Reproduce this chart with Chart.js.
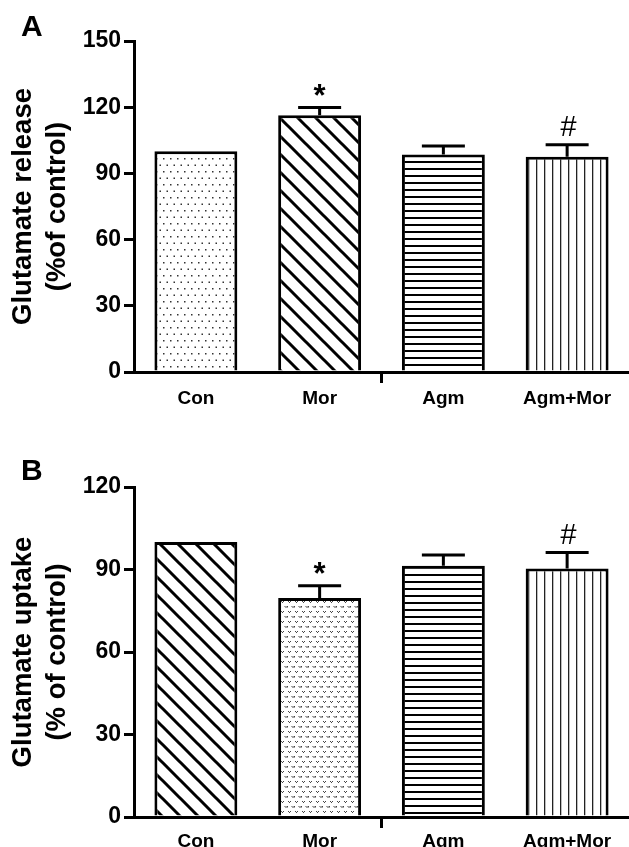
<!DOCTYPE html>
<html>
<head>
<meta charset="utf-8">
<script src="https://cdn.jsdelivr.net/npm/chart.js@4/dist/chart.umd.min.js"></script>
<style>
  html, body { margin: 0; padding: 0; background: #fff; }
  #wrap { position: relative; width: 629px; height: 847px; overflow: hidden; }
  .panel { position: absolute; left: 0; width: 629px; }
  .plabel { position: absolute; left: 21px; font: bold 30px "Liberation Sans", Arial, sans-serif; color: #000; }
</style>
</head>
<body>
<div id="wrap">
  <div class="panel" style="top:0;height:420px"><canvas id="cA" width="629" height="420"></canvas></div>
  <div class="panel" style="top:420px;height:427px"><canvas id="cB" width="629" height="427"></canvas></div>
  <div class="plabel" style="top:9px">A</div>
  <div class="plabel" style="top:453px">B</div>
</div>
<script>
// ---- data ----
const categories = ['Con', 'Mor', 'Agm', 'Agm+Mor'];

const releaseValues = [100, 116.4, 98.6, 97.6];
const releaseErrors = [0, 3.5, 3.8, 5.4];
const releaseMarks  = ['', '*', '', '#'];
const releaseTicks  = [0, 30, 60, 90, 120, 150];

const uptakeValues = [100, 79.6, 91.4, 90.4];
const uptakeErrors = [0, 4.5, 3.9, 5.8];
const uptakeMarks  = ['', '*', '', '#'];
const uptakeTicks  = [0, 30, 60, 90, 120];

const releaseTitle = ['Glutamate release', '(%of control)'];
const uptakeTitle  = ['Glutamate uptake', '(% of control)'];

// ---- patterns (styling only) ----
function makePattern(w, h, draw) {
  const c = document.createElement('canvas');
  c.width = w; c.height = h;
  const g = c.getContext('2d');
  g.fillStyle = '#fff'; g.fillRect(0, 0, w, h);
  g.fillStyle = '#000'; g.strokeStyle = '#000';
  draw(g, w, h);
  return g.createPattern(c, 'repeat');
}
const patDots = makePattern(14, 13, g => {
  g.fillStyle = '#333';
  g.fillRect(2, 2, 1.5, 1.5); g.fillRect(9, 2, 1.5, 1.5);
  g.fillRect(5.5, 8.5, 1.5, 1.5); g.fillRect(12.5, 8.5, 1.5, 1.5);
});
const patDiag = makePattern(18, 18, g => {
  g.lineWidth = 3;
  g.beginPath();
  g.moveTo(-2, -2); g.lineTo(20, 20);
  g.moveTo(-20, -2); g.lineTo(2, 20);
  g.moveTo(16, -2); g.lineTo(38, 20);
  g.stroke();
});
const patHoriz = makePattern(8, 7, g => { g.fillRect(0, 0, 8, 2); });
const patVert = makePattern(8, 8, g => { g.fillStyle = '#222'; g.fillRect(0, 0, 1.3, 8); });
const patV = makePattern(7, 10, g => {
  g.fillStyle = '#444';
  g.fillRect(1, 1, 1, 1); g.fillRect(3, 1, 1, 1); g.fillRect(2, 2, 1, 1);
  g.fillRect(4.5, 6, 1, 1); g.fillRect(6.5, 6, 1, 1); g.fillRect(5.5, 7, 1, 1);
  g.fillRect(0, 6, 1, 1); g.fillRect(0, 7, 0.5, 1);
});

const FONT = '"Liberation Sans", Arial, sans-serif';

// error bars + significance marks drawn via the chart's own scales
const errorPlugin = {
  id: 'errBars',
  afterDatasetsDraw(chart) {
    const o = chart.options.plugins.errBars;
    const meta = chart.getDatasetMeta(0);
    const ys = chart.scales.y;
    const c = chart.ctx;
    c.save();
    c.strokeStyle = '#000';
    c.fillStyle = '#000';
    c.lineWidth = 3;
    o.values.forEach((v, i) => {
      const bar = meta.data[i];
      const x = bar.x;
      const yTop = ys.getPixelForValue(v);
      const yCap = ys.getPixelForValue(v + o.errors[i]);
      if (o.errors[i] > 0) {
        c.beginPath();
        c.moveTo(x, yTop); c.lineTo(x, yCap);
        c.moveTo(x - 21.5, yCap); c.lineTo(x + 21.5, yCap);
        c.stroke();
      }
      const m = o.marks[i];
      if (m === '*') {
        c.font = 'bold 31px ' + FONT;
        c.textAlign = 'center'; c.textBaseline = 'middle';
        c.fillText(m, x, yCap - 10);
      } else if (m === '#') {
        c.font = 'italic 29px ' + FONT;
        c.textAlign = 'center'; c.textBaseline = 'middle';
        c.fillText(m, x + 1, yCap - 17);
      }
    });
    c.restore();
  }
};

function makeChart(id, values, errors, marks, ticks, title, colors, topPad, xHeight, xPad) {
  return new Chart(document.getElementById(id), {
    type: 'bar',
    data: {
      labels: categories,
      datasets: [{
        data: values,
        backgroundColor: colors,
        borderColor: '#000',
        borderWidth: 3,
        borderSkipped: 'start',
        categoryPercentage: 1,
        barPercentage: 0.67
      }]
    },
    plugins: [errorPlugin],
    options: {
      responsive: false,
      animation: false,
      events: [],
      layout: { padding: { top: topPad, right: 0, left: 0, bottom: 0 } },
      plugins: {
        legend: { display: false },
        tooltip: { enabled: false },
        errBars: { values, errors, marks }
      },
      scales: {
        x: {
          offset: true,
          afterFit: s => { s.height = xHeight; },
          grid: {
            offset: true,
            drawOnChartArea: false,
            drawTicks: true,
            tickLength: 11,
            lineWidth: 3,
            color: c => (c.index === 2 ? '#000' : 'rgba(0,0,0,0)')
          },
          border: { display: true, color: '#000', width: 3 },
          ticks: {
            color: '#000',
            padding: xPad,
            maxRotation: 0,
            font: { family: FONT, size: 19, weight: 'bold' }
          }
        },
        y: {
          min: ticks[0],
          max: ticks[ticks.length - 1],
          afterFit: s => { s.width = 134; },
          afterBuildTicks: s => { s.ticks = ticks.map(v => ({ value: v })); },
          grid: {
            drawOnChartArea: false,
            drawTicks: true,
            tickLength: 10,
            lineWidth: 3,
            color: '#000'
          },
          border: { display: true, color: '#000', width: 3 },
          ticks: {
            color: '#000',
            padding: 3,
            font: { family: FONT, size: 23, weight: 'bold' }
          },
          title: {
            display: true,
            text: title,
            color: '#000',
            padding: { top: 6, bottom: 0 },
            font: { family: FONT, size: 27.5, weight: 'bold', lineHeight: 1.25 }
          }
        }
      }
    }
  });
}

makeChart('cA', releaseValues, releaseErrors, releaseMarks, releaseTicks, releaseTitle,
  [patDots, patDiag, patHoriz, patVert], 41, 48, 4);
makeChart('cB', uptakeValues, uptakeErrors, uptakeMarks, uptakeTicks, uptakeTitle,
  [patDiag, patV, patHoriz, patVert], 67, 30, 2);
</script>
</body>
</html>
